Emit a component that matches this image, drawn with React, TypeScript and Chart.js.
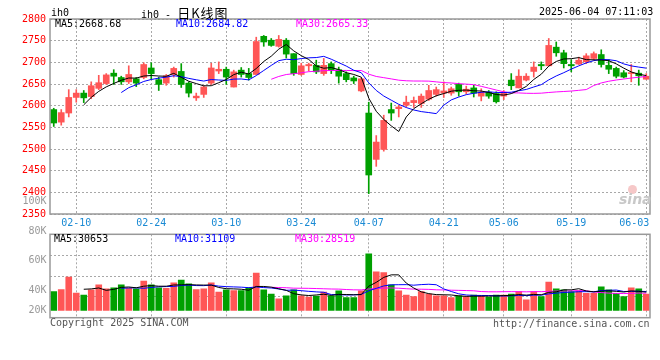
import React, { useEffect, useRef } from "react";
import { Chart, registerables } from "chart.js";

Chart.register(...registerables);

// ---------- DATA ----------
const dates = [
  "02-05", "02-06", "02-07", "02-10", "02-11", "02-12", "02-13", "02-14", "02-17", "02-18",
  "02-19", "02-20", "02-21", "02-24", "02-25", "02-26", "02-27", "02-28", "03-03", "03-04",
  "03-05", "03-06", "03-07", "03-10", "03-11", "03-12", "03-13", "03-14", "03-17", "03-18",
  "03-19", "03-20", "03-21", "03-24", "03-25", "03-26", "03-27", "03-28", "03-31", "04-01",
  "04-02", "04-03", "04-07", "04-08", "04-09", "04-10", "04-11", "04-14", "04-15", "04-16",
  "04-17", "04-18", "04-21", "04-22", "04-23", "04-24", "04-25", "04-28", "04-29", "04-30",
  "05-06", "05-07", "05-08", "05-09", "05-12", "05-13", "05-14", "05-15", "05-16", "05-19",
  "05-20", "05-21", "05-22", "05-23", "05-26", "05-27", "05-28", "05-29", "05-30", "06-03",
];

const openP = [
  2591, 2562, 2583, 2619, 2629, 2621, 2640, 2651, 2675, 2665,
  2655, 2662, 2665, 2687, 2660, 2652, 2672, 2679, 2652, 2618,
  2626, 2652, 2680, 2684, 2643, 2682, 2674, 2672, 2760, 2751,
  2737, 2751, 2720, 2672, 2692, 2693, 2674, 2697, 2683, 2674,
  2664, 2634, 2583, 2476, 2499, 2591, 2593, 2601, 2607, 2605,
  2615, 2626, 2629, 2629, 2649, 2632, 2641, 2622, 2631, 2628,
  2622, 2659, 2641, 2659, 2679, 2695, 2692, 2735, 2722, 2695,
  2696, 2701, 2709, 2718, 2693, 2686, 2676, 2674, 2675, 2661,
];
const highP = [
  2594, 2591, 2637, 2637, 2635, 2655, 2670, 2674, 2683, 2668,
  2692, 2665, 2699, 2699, 2666, 2672, 2689, 2697, 2655, 2629,
  2646, 2698, 2701, 2689, 2682, 2688, 2686, 2758, 2762, 2755,
  2762, 2755, 2720, 2698, 2698, 2705, 2709, 2701, 2689, 2678,
  2668, 2664, 2608, 2531, 2578, 2606, 2601, 2622, 2620, 2627,
  2647, 2643, 2655, 2643, 2652, 2645, 2647, 2639, 2635, 2632,
  2635, 2674, 2683, 2674, 2701, 2701, 2755, 2747, 2728, 2706,
  2712, 2720, 2724, 2729, 2706, 2689, 2681, 2695, 2682, 2674,
];
const lowP = [
  2552, 2555, 2574, 2608, 2607, 2616, 2637, 2649, 2649, 2649,
  2651, 2644, 2662, 2661, 2635, 2647, 2666, 2642, 2620, 2612,
  2619, 2649, 2674, 2649, 2643, 2666, 2659, 2672, 2737, 2737,
  2735, 2710, 2670, 2670, 2680, 2674, 2670, 2674, 2652, 2655,
  2651, 2632, 2397, 2460, 2495, 2566, 2574, 2597, 2596, 2596,
  2612, 2622, 2619, 2624, 2622, 2627, 2620, 2611, 2617, 2606,
  2614, 2637, 2641, 2657, 2666, 2683, 2692, 2714, 2687, 2678,
  2695, 2697, 2705, 2689, 2674, 2664, 2664, 2655, 2647, 2661,
];
const closeP = [
  2560, 2584, 2619, 2629, 2618, 2646, 2653, 2671, 2668, 2655,
  2672, 2652, 2695, 2674, 2649, 2669, 2686, 2649, 2629, 2622,
  2643, 2687, 2684, 2666, 2678, 2672, 2665, 2748, 2747, 2739,
  2753, 2719, 2674, 2692, 2695, 2678, 2693, 2682, 2668, 2660,
  2657, 2662, 2440, 2516, 2566, 2583, 2597, 2608, 2612, 2622,
  2635, 2637, 2634, 2639, 2632, 2638, 2629, 2631, 2622, 2609,
  2631, 2646, 2668, 2668, 2689, 2692, 2739, 2722, 2697, 2692,
  2705, 2715, 2720, 2695, 2684, 2668, 2666, 2676, 2669, 2668,
];
const volumes = [
  30100, 31500, 40300, 29200, 27800, 31300, 34800, 32000, 32700, 34800,
  32500, 32000, 37500, 34800, 32700, 32500, 36200, 38200, 35500, 31500,
  32000, 36200, 29900, 31300, 30800, 30800, 32700, 43000, 31300, 28500,
  25100, 27200, 31300, 27200, 26300, 27000, 29900, 27200, 30600, 26000,
  26000, 30600, 56400, 43900, 43300, 34800, 30600, 27800, 26700, 30100,
  28500, 27200, 27200, 26000, 27200, 26700, 27800, 27200, 26300, 27800,
  27800, 28500, 30100, 24400, 30100, 26700, 36800, 32000, 31300, 30100,
  30600, 29000, 29000, 33400, 31300, 29000, 26700, 32700, 32000, 28500,
];

const dateTicks = ["02-10", "02-24", "03-10", "03-24", "04-07", "04-21", "05-06", "05-19", "06-03"];
const priceMin = 2350;
const priceMax = 2800;
const priceStep = 50;
const volMin = 12000;
const volMax = 70000;
const volBase = 17000;
const volTickLabels = ["100K", "80K", "60K", "40K", "20K"];
const maPeriods = [5, 10, 30];
const maColors = ["#000000", "#0000ff", "#ff00ff"];
const priceLegend = ["MA5:2668.68", "MA10:2684.82", "MA30:2665.33"];
const volLegend = ["MA5:30653", "MA10:31109", "MA30:28519"];

// ---------- STYLE ----------
const UP = "#ff5656";
const DOWN = "#00a000";
const GRID = "#a8a8a8";
const MONO = "'DejaVu Sans Mono', monospace";
const DATE_COLOR = "#1a8ad4";

function movingAverage(values: number[], n: number): (number | null)[] {
  return values.map((_, i) => {
    if (i < n - 1) return null;
    let s = 0;
    for (let k = i - n + 1; k <= i; k++) s += values[k];
    return s / n;
  });
}

const candleColors = closeP.map((c, i) => (c >= openP[i] ? UP : DOWN));

const framePlugin = {
  id: "frame",
  afterDraw(chart: any) {
    const { ctx, chartArea: a } = chart;
    ctx.save();
    ctx.strokeStyle = "#999";
    ctx.lineWidth = 1.5;
    ctx.setLineDash([]);
    ctx.strokeRect(a.left, a.top, a.right - a.left, a.bottom - a.top);
    ctx.restore();
  },
};

const volLabelPlugin = {
  id: "volLabels",
  afterDraw(chart: any) {
    const { ctx, chartArea: a } = chart;
    ctx.save();
    ctx.font = `10px ${MONO}`;
    ctx.fillStyle = "#999";
    ctx.textAlign = "right";
    ctx.textBaseline = "middle";
    volTickLabels.forEach((t, i) => {
      const y = Math.min(a.top - 3.3 + (i - 1) * 29.7, a.bottom - 7);
      ctx.fillText(t, 46.5, y);
    });
    ctx.restore();
  },
};

function filterDateTicks(s: any) {
  s.ticks = s.ticks.filter((t: any) => dateTicks.includes(dates[t.value]));
}

export default function App() {
  const mainRef = useRef<HTMLCanvasElement | null>(null);
  const volRef = useRef<HTMLCanvasElement | null>(null);

  useEffect(() => {
    const lastDate = dates[dates.length - 1];
    const main = new Chart(mainRef.current as HTMLCanvasElement, {
      type: "bar",
      data: {
        labels: dates,
        datasets: [
          ...maPeriods.map((p, k) => ({
            type: "line" as const,
            data: movingAverage(closeP, p),
            borderColor: maColors[k],
            borderWidth: 1,
            pointRadius: 0,
            fill: false,
            tension: 0,
            order: 0,
          })),
          {
            type: "bar" as const,
            data: dates.map((_, i) => [openP[i], closeP[i]]),
            backgroundColor: candleColors,
            barThickness: 6,
            minBarLength: 1,
            grouped: false,
            borderWidth: 0,
            order: 1,
          },
          {
            type: "bar" as const,
            data: dates.map((_, i) => [lowP[i], highP[i]]),
            backgroundColor: candleColors,
            barThickness: 1,
            grouped: false,
            borderWidth: 0,
            order: 2,
          },
        ] as any,
      },
      options: {
        animation: false,
        responsive: false,
        events: [],
        layout: { padding: { top: 19, right: 10, left: 0, bottom: 0 } },
        plugins: { legend: { display: false }, tooltip: { enabled: false } },
        scales: {
          x: {
            offset: true,
            grid: { offset: false, color: GRID, drawTicks: false },
            border: { display: false, dash: [2, 2] },
            afterBuildTicks: filterDateTicks,
            afterFit: (s: any) => {
              s.height = 20;
              s.paddingLeft = 0;
              s.paddingRight = 0;
            },
            ticks: {
              autoSkip: false,
              maxRotation: 0,
              color: DATE_COLOR,
              font: { family: MONO, size: 10 },
              padding: 3,
              callback: (v: any) => (dates[v] === lastDate ? dates[v] + "    " : dates[v]),
            },
          },
          y: {
            min: priceMin,
            max: priceMax,
            ticks: {
              stepSize: priceStep,
              color: "#ff0000",
              font: { family: MONO, size: 10 },
              padding: 4,
              callback: (v: any) => String(v),
            },
            grid: { color: GRID, drawTicks: false },
            border: { display: false, dash: [2, 2] },
            afterFit: (s: any) => {
              s.width = 50;
              s.paddingTop = 0;
              s.paddingBottom = 0;
            },
          },
        },
      } as any,
      plugins: [framePlugin],
    });

    const vol = new Chart(volRef.current as HTMLCanvasElement, {
      type: "bar",
      data: {
        labels: dates,
        datasets: [
          ...maPeriods.map((p, k) => ({
            type: "line" as const,
            data: movingAverage(volumes, p),
            borderColor: maColors[k],
            borderWidth: 1,
            pointRadius: 0,
            fill: false,
            tension: 0,
            order: 0,
          })),
          {
            type: "bar" as const,
            data: volumes.map((v) => [volBase, v]),
            backgroundColor: candleColors,
            barThickness: 6,
            grouped: false,
            borderWidth: 0,
            order: 1,
          },
        ] as any,
      },
      options: {
        animation: false,
        responsive: false,
        events: [],
        layout: { padding: { top: 44.3, right: 10, left: 0, bottom: 14.3 } },
        plugins: { legend: { display: false }, tooltip: { enabled: false } },
        scales: {
          x: {
            offset: true,
            grid: { offset: false, color: GRID, drawTicks: false },
            border: { display: false, dash: [2, 2] },
            afterBuildTicks: filterDateTicks,
            afterFit: (s: any) => {
              s.height = 0;
              s.paddingLeft = 0;
              s.paddingRight = 0;
            },
            ticks: { display: false, autoSkip: false },
          },
          y: {
            min: volMin,
            max: volMax,
            afterBuildTicks: (s: any) => {
              s.ticks = [0, 1, 2, 3, 4].map((k) => ({ value: volMin + ((volMax - volMin) * k) / 4 }));
            },
            ticks: { display: false },
            grid: { color: GRID, drawTicks: false },
            border: { display: false, dash: [2, 2] },
            afterFit: (s: any) => {
              s.width = 50;
            },
          },
        },
      } as any,
      plugins: [framePlugin, volLabelPlugin],
    });

    return () => {
      main.destroy();
      vol.destroy();
    };
  }, []);

  const txt = (x: number, y: number, color: string, text: string, extra: any = {}) => (
    <div
      style={{
        position: "absolute",
        left: x,
        top: y - 6,
        font: `10px ${MONO}`,
        lineHeight: "12px",
        color,
        whiteSpace: "pre",
        ...extra,
      }}
    >
      {text}
    </div>
  );

  return (
    <div
      style={{
        position: "absolute",
        left: 0,
        top: 0,
        width: 660,
        height: 360,
        background: "#fff",
        overflow: "hidden",
      }}
    >
      <canvas ref={mainRef} width={660} height={234} style={{ position: "absolute", left: 0, top: 0 }} />
      <canvas ref={volRef} width={660} height={142} style={{ position: "absolute", left: 0, top: 190 }} />

      {txt(51, 13, "#000", "ih0")}
      <div
        style={{
          position: "absolute",
          left: 141,
          top: 3,
          lineHeight: "17px",
          color: "#000",
          whiteSpace: "pre",
        }}
      >
        <span style={{ font: `10px ${MONO}` }}>ih0 - </span>
        <span style={{ font: "13px 'Noto Sans CJK SC'", letterSpacing: "1px" }}>日K线图</span>
      </div>
      {txt(539, 12, "#000", "2025-06-04 07:11:03")}

      {txt(55, 24, maColors[0], priceLegend[0])}
      {txt(176, 24, maColors[1], priceLegend[1])}
      {txt(296, 24, maColors[2], priceLegend[2])}

      {txt(54, 238.5, maColors[0], volLegend[0])}
      {txt(175, 238.5, maColors[1], volLegend[1])}
      {txt(295, 238.5, maColors[2], volLegend[2])}

      {txt(50, 323, "#555", "Copyright 2025 SINA.COM")}
      {txt(493, 323.5, "#555", "http://finance.sina.com.cn")}

      <div
        style={{
          position: "absolute",
          left: 628,
          top: 185,
          width: 9,
          height: 9,
          borderRadius: 5,
          background: "#f6c8c8",
        }}
      />
      <div
        style={{
          position: "absolute",
          left: 619,
          top: 192,
          font: "italic bold 14px 'DejaVu Sans'",
          lineHeight: "14px",
          color: "#c8c8c8",
        }}
      >
        sina
      </div>
    </div>
  );
}
